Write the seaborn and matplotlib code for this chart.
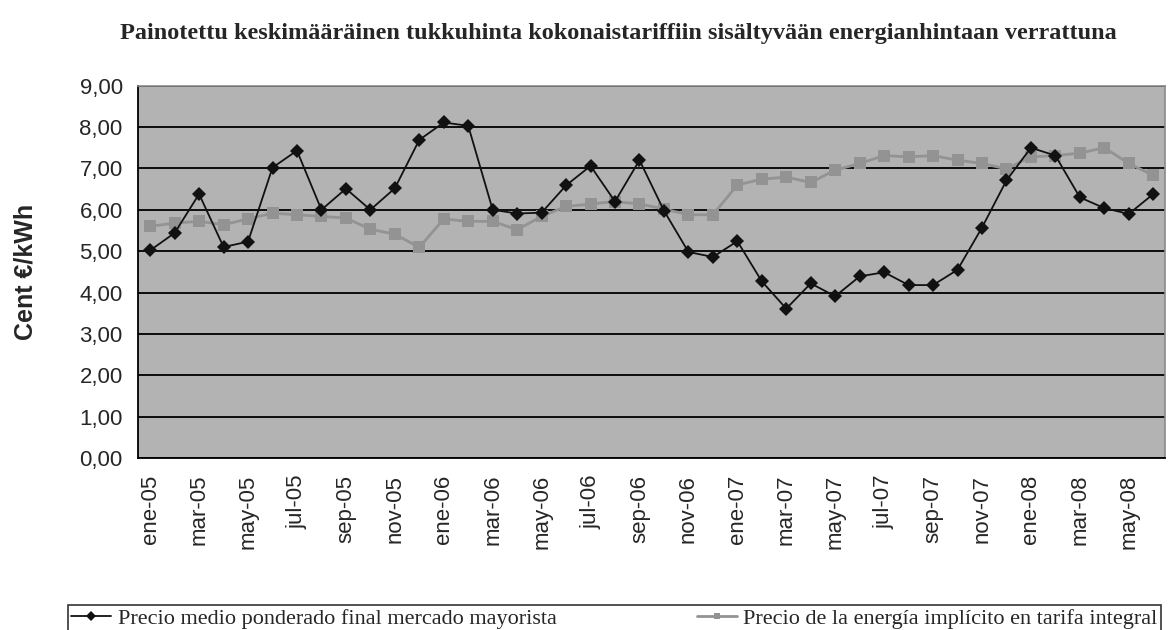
import numpy as np
import pandas as pd
import matplotlib
matplotlib.use("Agg")
import matplotlib.pyplot as plt
import seaborn as sns

# month labels (Spanish), ene-05 .. jun-08
month_names = ["ene", "feb", "mar", "abr", "may", "jun",
               "jul", "ago", "sep", "oct", "nov", "dic"]
years = ["05", "06", "07", "08"]
months = [m + "-" + y for y in years for m in month_names][:42]

# Precio medio ponderado final mercado mayorista
wholesale = [5.02, 5.44, 6.38, 5.10, 5.23, 7.02, 7.43, 6.00, 6.51, 6.00, 6.52, 7.69,
             8.11, 8.03, 6.00, 5.91, 5.93, 6.59, 7.06, 6.20, 7.20, 5.98, 4.98, 4.86,
             5.24, 4.27, 3.61, 4.22, 3.91, 4.39, 4.49, 4.18, 4.18, 4.55, 5.57, 6.71,
             7.50, 7.31, 6.30, 6.04, 5.90, 6.38]

# Precio de la energía implícito en tarifa integral
tariff = [5.60, 5.68, 5.72, 5.64, 5.78, 5.92, 5.88, 5.84, 5.80, 5.53, 5.41, 5.09,
          5.78, 5.72, 5.72, 5.52, 5.84, 6.08, 6.14, 6.20, 6.14, 6.02, 5.88, 5.88,
          6.60, 6.74, 6.79, 6.66, 6.96, 7.12, 7.31, 7.28, 7.31, 7.20, 7.12, 6.99,
          7.28, 7.31, 7.37, 7.50, 7.12, 6.83]

label_a = "Precio medio ponderado final mercado mayorista"
label_b = "Precio de la energía implícito en tarifa integral"

df = pd.DataFrame({"pos": np.arange(len(months)), "month": months,
                   "a": wholesale, "b": tariff})

sns.set_style("white")
plt.rcParams["font.family"] = ["Liberation Sans", "DejaVu Sans"]

fig = plt.figure(figsize=(11.69, 6.30), dpi=100)
ax = fig.add_axes([0.118, 0.273, 0.879, 0.591])
ax.set_facecolor("#b3b3b3")

sns.lineplot(ax=ax, data=df, x="pos", y="b", color="#939393", lw=2,
             marker="s", markersize=8, markeredgewidth=0, label=label_b, zorder=3)
sns.lineplot(ax=ax, data=df, x="pos", y="a", color="#111111", lw=1.3,
             marker="D", markersize=7, markeredgewidth=0, label=label_a, zorder=4)

# axes
ax.set_ylim(0, 9)
ax.set_xlim(-0.5, len(months) - 0.5)
ax.set_yticks(np.arange(0, 10))
ax.set_yticklabels([f"{v:.2f}".replace(".", ",") for v in range(10)], fontsize=16)
ax.yaxis.grid(True, color="black", lw=1.3)
ax.set_axisbelow(True)

ax.set_xticks(df["pos"][::2])
ax.set_xticklabels(df["month"][::2], rotation=90, fontsize=16)
ax.set_xticks(np.arange(-0.5, len(months), 2), minor=True)
ax.tick_params(axis="x", which="major", length=0, pad=12)
ax.tick_params(axis="x", which="minor", length=7, width=1.2, color="black", direction="out")
ax.tick_params(axis="y", length=7, width=1.2, color="black", direction="out", pad=4)

for s in ["left", "bottom"]:
    ax.spines[s].set_color("black")
    ax.spines[s].set_linewidth(1.3)
for s in ["top", "right"]:
    ax.spines[s].set_color("#8a8a8a")
    ax.spines[s].set_linewidth(1.2)

ax.set_xlabel("")
ax.set_ylabel("Cent €/kWh", fontsize=18, fontweight="bold")
ax.yaxis.set_label_coords(-0.098, 0.5)

fig.text(0.103, 0.947, "Painotettu keskimääräinen tukkuhinta kokonaistariffiin sisältyvään energianhintaan verrattuna",
         fontsize=17.5, fontweight="bold", family="Liberation Serif", va="center")

# legend at the bottom, frame runs to the figure edge
handles, labels = ax.get_legend_handles_labels()
ax.get_legend().remove()
leg = fig.legend(handles[::-1], labels[::-1], loc="lower left", ncol=2,
                 bbox_to_anchor=(0.058, -0.004, 0.935, 0.0), mode="expand",
                 frameon=True, fancybox=False, edgecolor="black",
                 prop={"family": "Liberation Serif", "size": 16},
                 handlelength=1.8, handletextpad=0.3, borderpad=0.15,
                 borderaxespad=0.0, columnspacing=1.0)
leg.get_frame().set_linewidth(1.2)
for h in leg.legend_handles:
    h.set_markersize(5)

plt.savefig("out.png", dpi=100)
plt.close()
